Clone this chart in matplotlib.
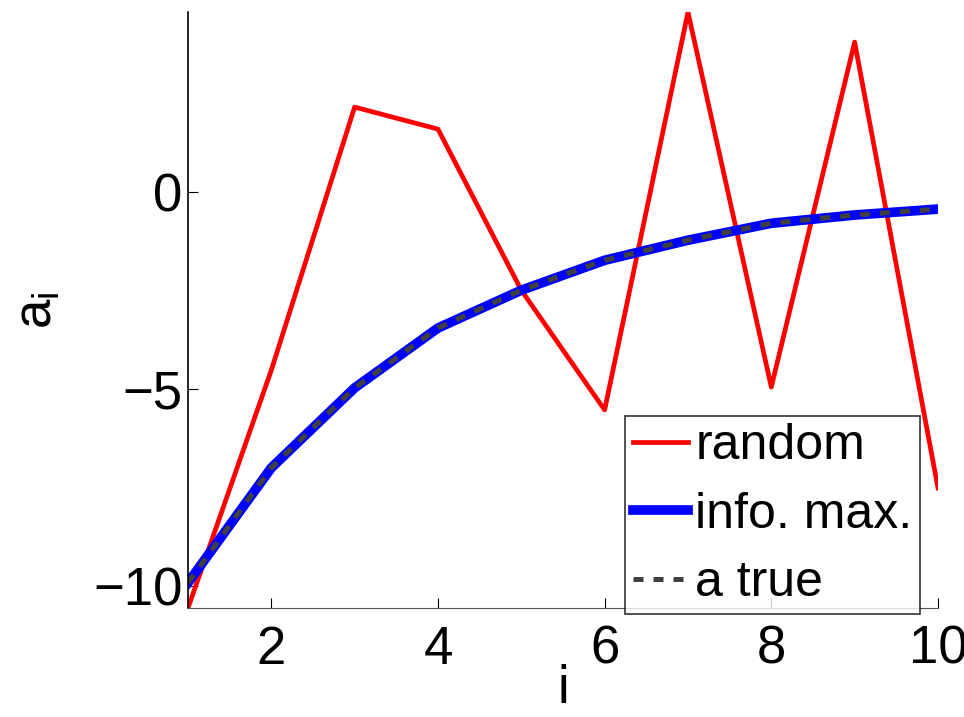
import matplotlib

matplotlib.use("Agg")

import matplotlib.pyplot as plt

plt.rcParams["font.family"] = ["Liberation Sans", "DejaVu Sans"]
plt.rcParams["mathtext.fontset"] = "custom"
plt.rcParams["mathtext.rm"] = "Liberation Sans"
plt.rcParams["mathtext.it"] = "Liberation Sans"

# Данні
i_vals = [1, 2, 3, 4, 5, 6, 7, 8, 9, 10]
a_random = [-10.56, -4.52, 2.16, 1.60, -2.49, -5.53, 4.57, -4.95, 3.81, -7.51]
a_infomax = [-9.92, -7.00, -4.97, -3.45, -2.49, -1.73, -1.22, -0.79, -0.58, -0.43]
a_true = [-9.92, -7.00, -4.97, -3.45, -2.49, -1.73, -1.22, -0.79, -0.58, -0.43]
x_ticks = [2, 4, 6, 8, 10]
y_ticks = [-10, -5, 0]

fig = plt.figure(figsize=(9.64, 7.17), dpi=100)
ax = fig.add_axes([0.195, 0.152, 0.778, 0.831])

ax.plot(i_vals, a_random, color="red", lw=3.4, label="random")
ax.plot(i_vals, a_infomax, color="blue", lw=7, label="info. max.")
ax.plot(i_vals, a_true, color="#404040", lw=3.6, ls=(0, (2, 2)), label="a true")

ax.set_xlim(1, 10)
ax.set_ylim(min(a_random), max(a_random))
ax.set_xticks(x_ticks)
ax.set_yticks(y_ticks)
ax.set_yticklabels(["\u221210", "\u22125", "0"])

ax.spines["top"].set_visible(False)
ax.spines["right"].set_visible(False)
ax.spines["bottom"].set_color("#555555")
ax.spines["left"].set_linewidth(1.2)
ax.tick_params(direction="in", length=7, labelsize=38)
ax.tick_params(axis="x", pad=12)
ax.tick_params(axis="y", pad=4)

ax.set_xlabel("i", fontsize=38, labelpad=-8)
ax.set_ylabel(r"$\mathregular{a_i}$", fontsize=38, labelpad=22)

# Легенда в правому нижньому куті
leg = ax.legend(loc="lower right", bbox_to_anchor=(0.976, -0.01),
                fontsize=36, frameon=True, fancybox=False, handlelength=1.1,
                handletextpad=0.15, borderpad=0.15, labelspacing=0.45, borderaxespad=0)
leg.get_frame().set_edgecolor("black")
leg.get_frame().set_linewidth(1.2)

fig.savefig("out.png", dpi=100)
